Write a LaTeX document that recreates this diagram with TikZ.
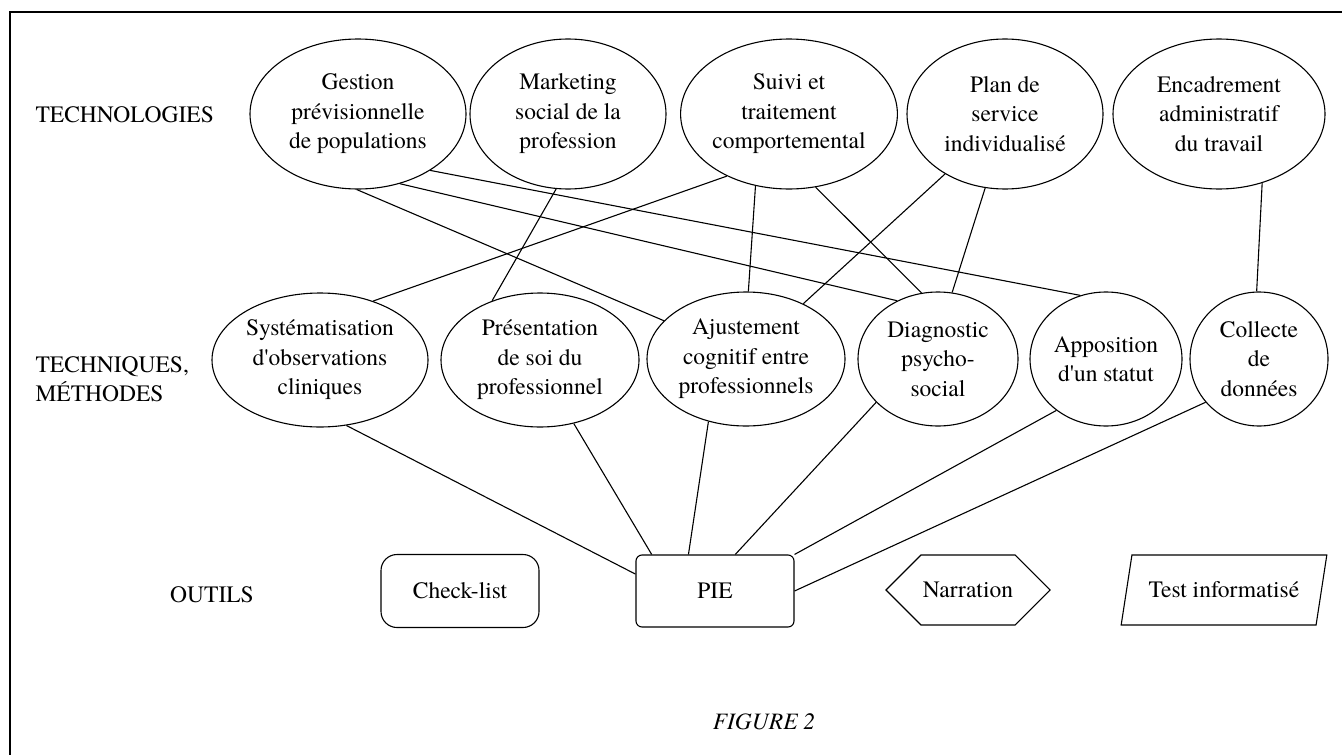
\documentclass[tikz,border=0pt]{standalone}
\usepackage{fontspec}
\setmainfont{texgyretermes}[Extension=.otf, UprightFont=*-regular, ItalicFont=*-italic, BoldFont=*-bold, BoldItalicFont=*-bolditalic]
\usetikzlibrary{shapes.geometric,shapes.symbols}
\tikzset{
  txt/.style={font=\fontsize{23.5}{29.5}\selectfont},
  ell/.style={ellipse, draw, line width=1.1pt, inner sep=0pt, align=center, txt},
  topell/.style={ell, minimum height=150pt},
  midell/.style={ell, minimum height=134pt},
  toolbox/.style={draw, line width=1.1pt, txt, minimum width=158pt, minimum height=72pt},
  link/.style={line width=1.1pt},
  frameline/.style={line width=1.6pt},
}
\begin{document}
\begin{tikzpicture}[x=1pt,y=-1pt]
\useasboundingbox (0,0) rectangle (1342,755);
% frame
\draw[frameline] (10,755) -- (10,12) -- (1342,12);

% row labels
\node[txt, anchor=west] (ltech) at (32,115) {TECHNOLOGIES};
\node[txt, anchor=west, align=left] (lmeth) at (32,379) {TECHNIQUES,\\MÉTHODES};
\node[txt] (lout) at (212,595) {OUTILS};
\node[txt, font=\fontsize{23.5}{29}\selectfont\itshape] (fig) at (764,722) {FIGURE 2};

% technologies
\node[topell, minimum width=216pt] (gest) at (358,114) {Gestion\\prévisionnelle\\de populations};
\node[topell, minimum width=196pt] (mark) at (568,114) {Marketing\\social de la\\profession};
\node[topell, minimum width=212pt] (suivi) at (789,114) {Suivi et\\traitement\\comportemental};
\node[topell, minimum width=196pt] (plan) at (1005,114) {Plan de\\service\\individualisé};
\node[topell, minimum width=212pt] (enca) at (1219,114) {Encadrement\\administratif\\du travail};

% techniques
\node[midell, minimum width=216pt] (syst) at (320,360) {Systématisation\\d\textquotesingle observations\\cliniques};
\node[midell, minimum width=198pt] (pres) at (540,360) {Présentation\\de soi du\\professionnel};
\node[midell, minimum width=198pt] (ajus) at (746,359) {Ajustement\\cognitif entre\\professionnels};
\node[midell, minimum width=160pt] (diag) at (938,359) {Diagnostic\\psycho-\\social};
\node[midell, minimum width=152pt] (appo) at (1106,359) {Apposition\\d\textquotesingle un statut};
\node[midell, minimum width=138pt] (coll) at (1259,359) {Collecte\\de\\données};

% outils
\node[toolbox, rounded corners=16pt, minimum height=73pt] (check) at (460,591) {Check-list};
\node[toolbox, rounded corners=6pt] (pie) at (715,591) {PIE};
\node[signal, signal to=west and east, signal pointer angle=90, draw, line width=1.1pt, txt,
      minimum width=156pt, minimum height=70pt, inner sep=2pt] (narr) at (968,590) {Narration};
\node[trapezium, trapezium left angle=66, trapezium right angle=114, trapezium stretches=true,
      draw, line width=1.1pt, txt, minimum width=206pt, minimum height=70pt, inner sep=2pt] (test) at (1224,590) {Test informatisé};

% technologies -> techniques
\draw[link] (gest.-91) -- (ajus.155);
\draw[link] (gest.-59) -- (diag.125.5);
\draw[link] (gest.-38) -- (appo.112);
\draw[link] (mark.-99.5) -- (pres.129);
\draw[link] (suivi.-135) -- (syst.48);
\draw[link] (suivi.-115) -- (ajus.88);
\draw[link] (suivi.-70) -- (diag.104);
\draw[link] (plan.-135) -- (ajus.44);
\draw[link] (plan.-105.5) -- (diag.78);
\draw[link] (enca.-58) -- (coll.92);

% techniques -> PIE
\draw[link] (syst.-68) -- (pie.168.5);
\draw[link] (pres.-62) -- (pie.150);
\draw[link] (ajus.-121) -- (pie.126);
\draw[link] (diag.-145.5) -- (pie.61);
\draw[link] (appo.-134) -- (pie.north east);
\draw[link] (coll.-141) -- (pie.east);
\end{tikzpicture}
\end{document}
